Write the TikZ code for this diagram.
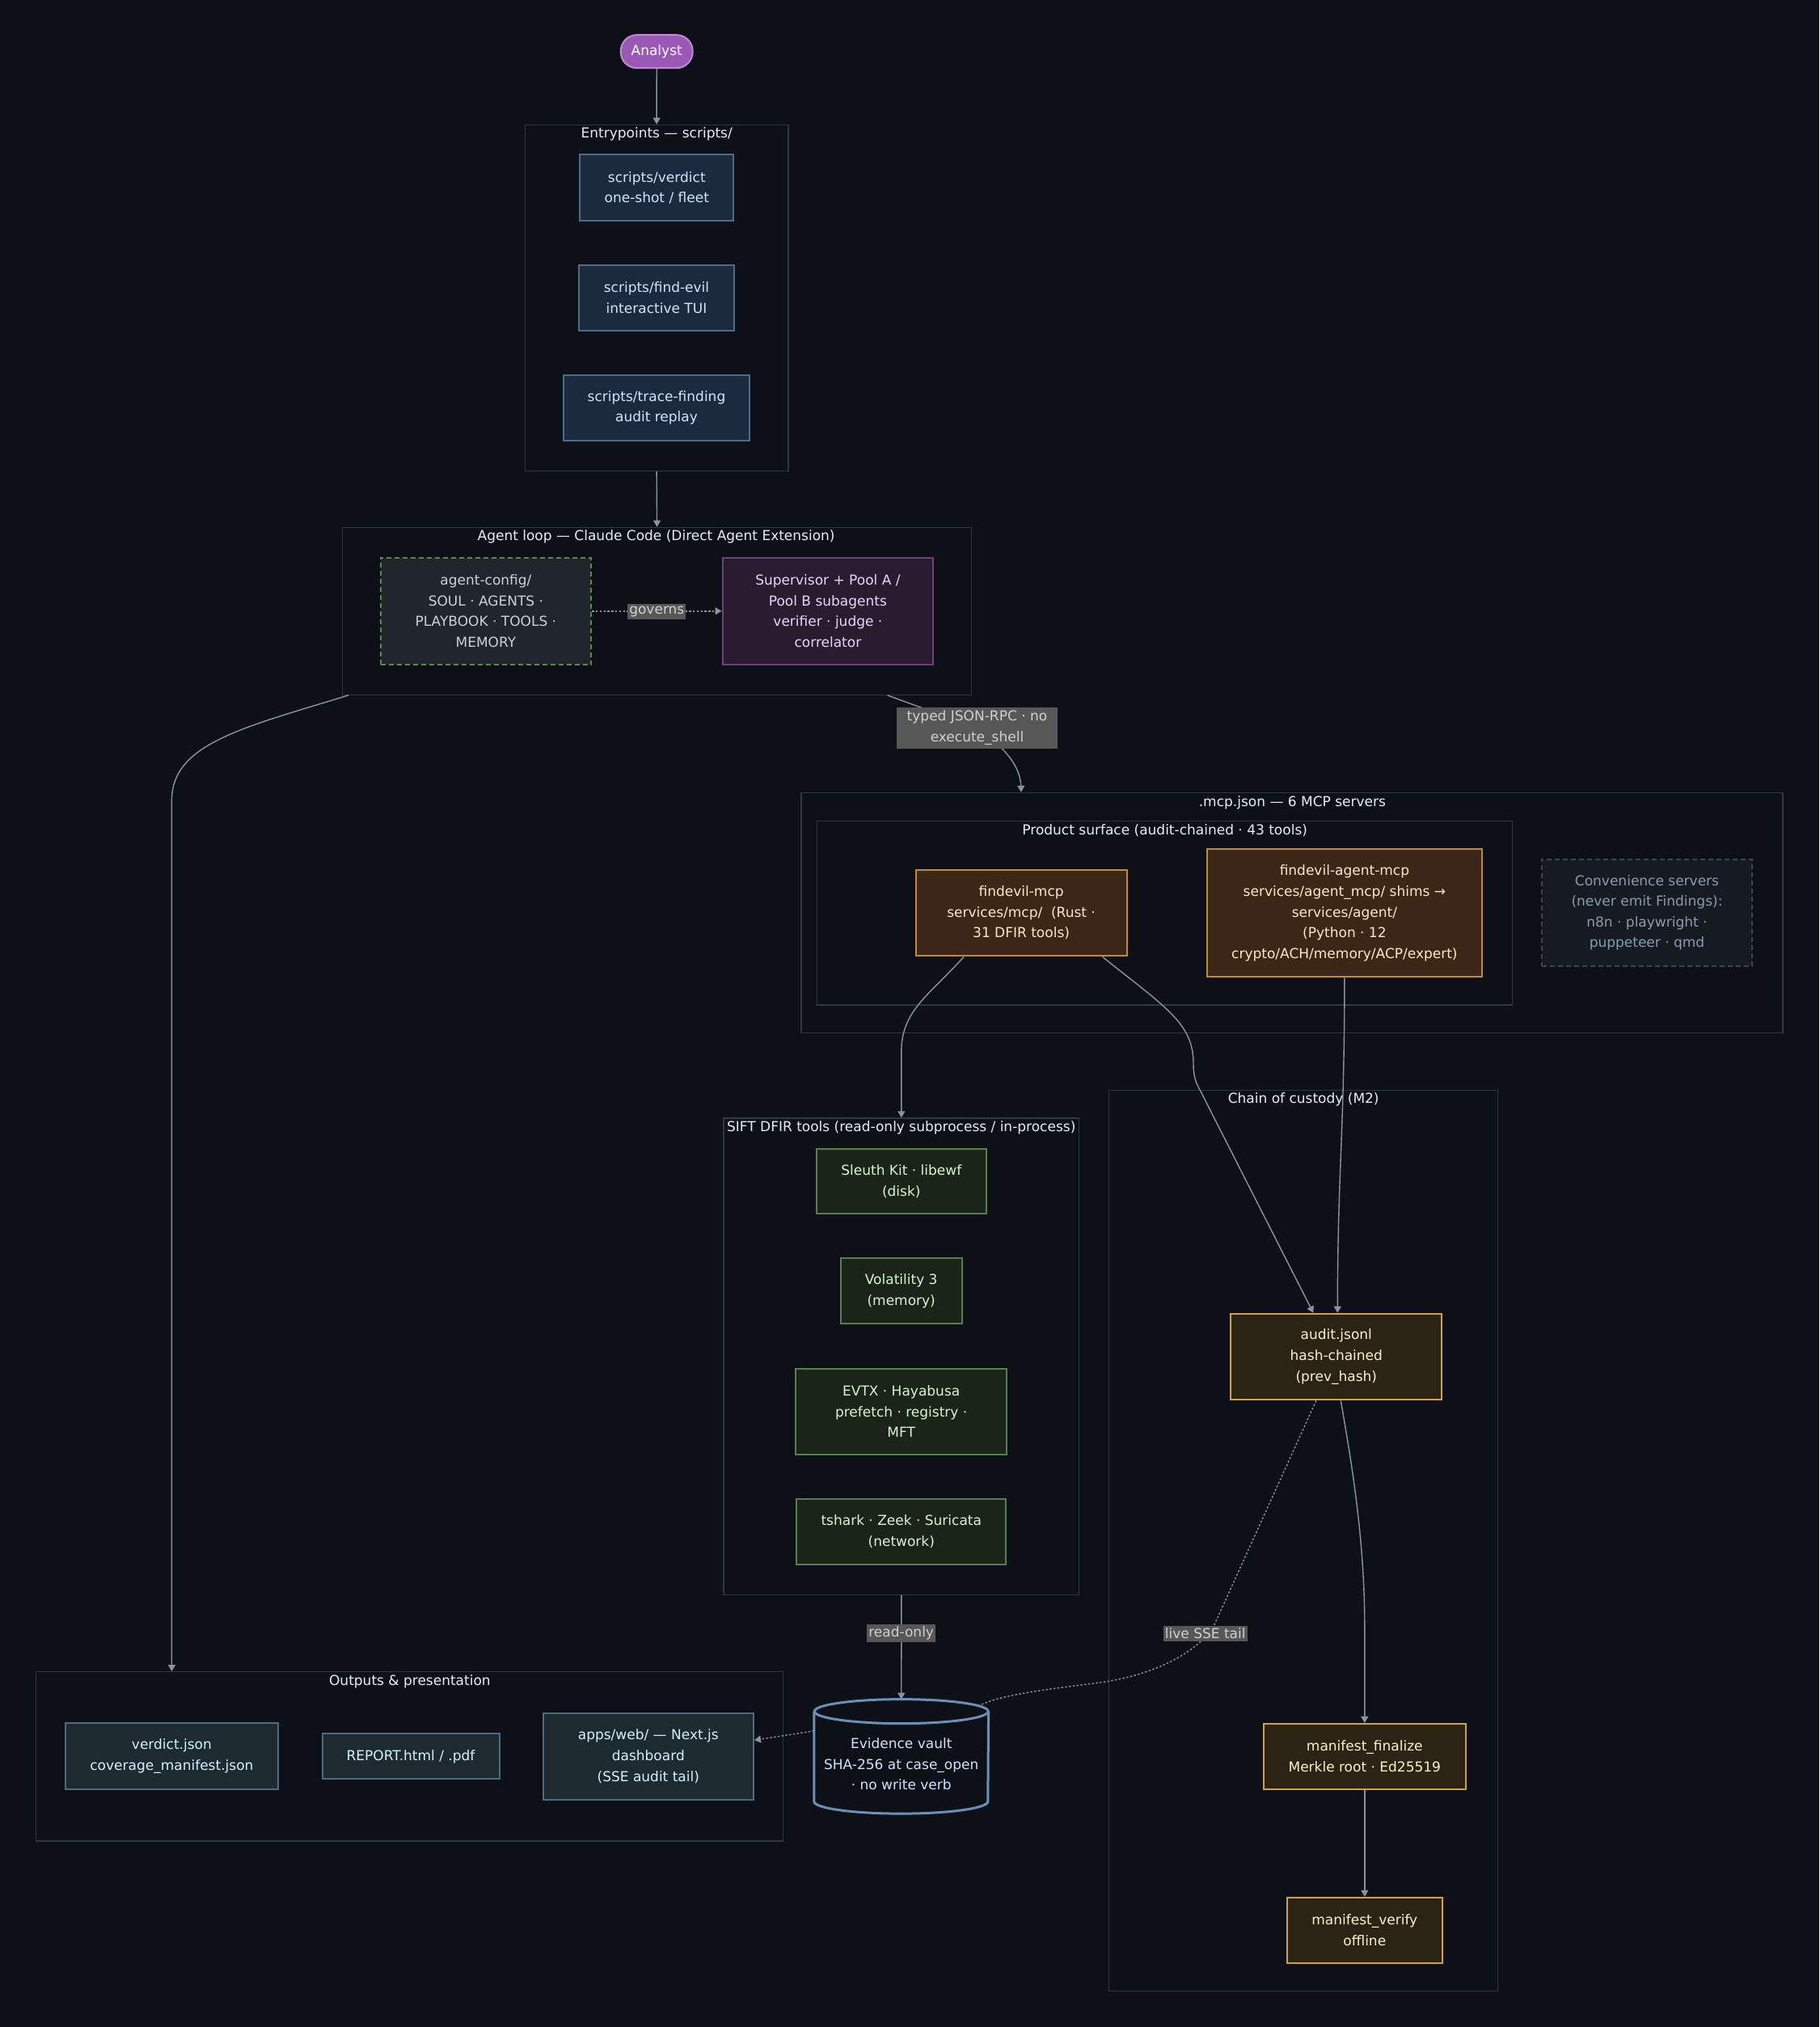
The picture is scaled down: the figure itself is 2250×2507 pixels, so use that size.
\documentclass[tikz,border=0pt]{standalone}
\usepackage{fontspec}
\setmainfont{DejaVu Sans}
\usetikzlibrary{arrows.meta,calc}
\definecolor{bg}{HTML}{0D1117}
\definecolor{clline}{HTML}{30363D}
\definecolor{cltext}{HTML}{E6EDF3}
\definecolor{edgecol}{HTML}{8B949E}
\definecolor{anfill}{HTML}{9B59B6}
\definecolor{anline}{HTML}{BE8AD2}
\definecolor{entfill}{HTML}{1B2A3C}
\definecolor{entline}{HTML}{4D6B8A}
\definecolor{enttext}{HTML}{CFE6FF}
\definecolor{cfgfill}{HTML}{21262D}
\definecolor{cfgline}{HTML}{5B8A4A}
\definecolor{cfgtext}{HTML}{C9D1D9}
\definecolor{supfill}{HTML}{2A1B2E}
\definecolor{supline}{HTML}{70407A}
\definecolor{suptext}{HTML}{E8D5FF}
\definecolor{lblfill}{HTML}{575757}
\definecolor{lbltext}{HTML}{D0D0D0}
\definecolor{mcpfill}{HTML}{3B2617}
\definecolor{mcpline}{HTML}{C08A3E}
\definecolor{mcptext}{HTML}{FFE6C7}
\definecolor{convfill}{HTML}{161B22}
\definecolor{convline}{HTML}{3D4550}
\definecolor{convtext}{HTML}{8B9BB0}
\definecolor{siftfill}{HTML}{1A2419}
\definecolor{siftline}{HTML}{5A7F4F}
\definecolor{sifttext}{HTML}{D8F5D0}
\definecolor{audfill}{HTML}{2B2414}
\definecolor{audline}{HTML}{D4A045}
\definecolor{audtext}{HTML}{FFF0CC}
\definecolor{outfill}{HTML}{1D2A2F}
\definecolor{outline}{HTML}{4E6A80}
\definecolor{outtext}{HTML}{D4F1FF}
\definecolor{vaultline}{HTML}{6A90B8}
\definecolor{vaulttext}{HTML}{CFE3FF}
\tikzset{
  cluster/.style={draw=clline, line width=0.6pt, inner sep=0pt},
  ctitle/.style={text=cltext, inner sep=0pt},
  box/.style={line width=1pt, align=center, inner sep=0pt},
  entbox/.style={box, fill=entfill, draw=entline, text=enttext},
  cfgbox/.style={box, fill=cfgfill, draw=cfgline, text=cfgtext, dash pattern=on 3pt off 2pt},
  supbox/.style={box, fill=supfill, draw=supline, text=suptext},
  mcpbox/.style={box, fill=mcpfill, draw=mcpline, text=mcptext},
  convbox/.style={box, fill=convfill, draw=convline, text=convtext, dash pattern=on 3pt off 2pt},
  siftbox/.style={box, fill=siftfill, draw=siftline, text=sifttext},
  audbox/.style={box, fill=audfill, draw=audline, text=audtext},
  outbox/.style={box, fill=outfill, draw=outline, text=outtext},
  elabel/.style={fill=lblfill, text=lbltext, align=center, inner xsep=1pt, inner ysep=1.5pt},
  edge/.style={draw=edgecol, line width=0.7pt},
  arr/.style={edge, -{Triangle[length=4pt,width=4.5pt]}},
  dots/.style={dash pattern=on 1.2pt off 1.2pt},
}
\begin{document}
\begin{tikzpicture}[x=0.5pt, y=-0.5pt, font=\fontsize{8.5pt}{12.8pt}\selectfont]
\fill[bg] (0,0) rectangle (2250,2507);
\useasboundingbox (0,0) rectangle (2250,2507);

% clusters
\node[cluster, minimum width=162.85pt, minimum height=214.1pt] (ent) at (812.15,368.4) {};
\node[ctitle] (entT) at (812.2,166) {Entrypoints — scripts/};
\node[cluster, minimum width=389pt, minimum height=103.5pt] (agentloop) at (812.6,755.8) {};
\node[ctitle] (agentT) at (811.6,664) {Agent loop — Claude Code (Direct Agent Extension)};
\node[cluster, minimum width=607pt, minimum height=148.5pt] (mcp) at (1598,1128.8) {};
\node[ctitle] (mcpT) at (1598.4,992.3) {.mcp.json — 6 MCP servers};
\node[cluster, minimum width=429.85pt, minimum height=113.85pt] (prod) at (1440.65,1129.15) {};
\node[ctitle] (prodT) at (1440.7,1026.7) {Product surface (audit-chained · 43 tools)};
\node[cluster, minimum width=219.85pt, minimum height=294.6pt] (sift) at (1114.85,1677.5) {};
\node[ctitle] (siftT) at (1114.7,1394.8) {SIFT DFIR tools (read-only subprocess / in-process)};
\node[cluster, minimum width=240.5pt, minimum height=557.1pt] (coc) at (1612.2,1905.7) {};
\node[ctitle] (cocT) at (1612.2,1359.5) {Chain of custody (M2)};
\node[cluster, minimum width=462.35pt, minimum height=104.65pt] (outputs) at (506.45,2172.35) {};
\node[ctitle] (outT) at (506.9,2080) {Outputs \& presentation};

% nodes
\node[box, fill=anfill, draw=anline, text=white, rounded corners=10pt, minimum width=44.5pt, minimum height=20.5pt] (analyst) at (812.2,63.7) {Analyst};

\node[entbox, minimum width=95pt, minimum height=40.9pt] (sverdict) at (812.3,232.3) {scripts/verdict\\one-shot / fleet};
\node[entbox, minimum width=95.7pt, minimum height=40.7pt] (sfind) at (812,368.2) {scripts/find-evil\\interactive TUI};
\node[entbox, minimum width=115.3pt, minimum height=40.7pt] (strace) at (812,504.3) {scripts/trace-finding\\audit replay};

\node[cfgbox, minimum width=130.35pt, minimum height=66.15pt] (agentcfg) at (600.9,755.8) {agent-config/\\SOUL · AGENTS ·\\PLAYBOOK · TOOLS ·\\MEMORY};
\node[supbox, minimum width=130.35pt, minimum height=66.15pt] (superv) at (1023.9,755.8) {Supervisor + Pool A /\\Pool B subagents\\verifier · judge ·\\correlator};

\node[mcpbox, minimum width=130.5pt, minimum height=53.35pt] (fmcp) at (1263.1,1129) {findevil-mcp\\services/mcp/\ \ (Rust ·\\31 DFIR tools)};
\node[mcpbox, minimum width=169.65pt, minimum height=79pt] (famcp) at (1662.9,1129.3) {findevil-agent-mcp\\services/agent\_mcp/ shims →\\services/agent/\\(Python · 12\\crypto/ACH/memory/ACP/expert)};
\node[convbox, minimum width=130pt, minimum height=66.15pt] (conv) at (2037,1128.8) {Convenience servers\\(never emit Findings):\\n8n · playwright ·\\puppeteer · qmd};

\node[siftbox, minimum width=104.85pt, minimum height=40.35pt] (sleuth) at (1114.8,1460.9) {Sleuth Kit · libewf\\(disk)};
\node[siftbox, minimum width=75pt, minimum height=40.5pt] (vol) at (1114.7,1596.7) {Volatility 3\\(memory)};
\node[siftbox, minimum width=130.35pt, minimum height=53.2pt] (evtx) at (1114.7,1745.7) {EVTX · Hayabusa\\prefetch · registry ·\\MFT};
\node[siftbox, minimum width=129.5pt, minimum height=40.9pt] (tshark) at (1114.8,1894.4) {tshark · Zeek · Suricata\\(network)};

\node[audbox, minimum width=130.5pt, minimum height=53.3pt] (audit) at (1652.8,1678) {audit.jsonl\\hash-chained\\(prev\_hash)};
\node[audbox, minimum width=124.85pt, minimum height=40.35pt] (mfin) at (1687.8,2172.3) {manifest\_finalize\\Merkle root · Ed25519};
\node[audbox, minimum width=96.15pt, minimum height=40.35pt] (mver) at (1687.8,2387.2) {manifest\_verify\\offline};

\node[outbox, minimum width=131.35pt, minimum height=40.85pt] (vjson) at (212.4,2172.2) {verdict.json\\coverage\_manifest.json};
\node[outbox, minimum width=109.5pt, minimum height=28pt] (report) at (508,2172.3) {REPORT.html / .pdf};
\node[outbox, minimum width=130.2pt, minimum height=53.5pt] (web) at (801.8,2172.2) {apps/web/ — Next.js\\dashboard\\(SSE audit tail)};

% evidence vault cylinder
\node[align=center, inner sep=0pt, minimum width=107.45pt, minimum height=70.35pt, text=vaulttext] (vault) at (1114.75,2172.35) {};
\filldraw[fill=bg, draw=vaultline, line width=1.5pt]
  ($(vault.north west)+(0,15)$) -- ($(vault.south west)+(0,-15)$)
  arc[start angle=180, end angle=0, x radius=107.45, y radius=15]
  -- ($(vault.north east)+(0,15)$);
\draw[draw=vaultline, line width=1.5pt, fill=bg] ($(vault.north)+(0,15)$) ellipse [x radius=107.45, y radius=15];
\node[align=center, inner sep=0pt, text=vaulttext] (vaultT) at (1114.75,2182) {Evidence vault\\SHA-256 at case\_open\\· no write verb};

% edges
\draw[arr] (analyst.south) -- (ent.north);
\draw[arr] (ent.south) -- (agentloop.north);
\draw[arr, dots] (agentcfg.east) -- (superv.west);
\node[elabel] (governs) at (812.3,756.3) {governs};

\draw[arr] ($(agentloop.south)+(285,0)$) -- (1180,890) .. controls (1235,910) and (1262,945) .. ($(mcp.north)+(-335,0)$);
\node[elabel, minimum width=99.5pt, minimum height=25.5pt, inner ysep=0pt] (jsonlbl) at (1208.5,900) {typed JSON-RPC · no\\execute\_shell};

\draw[arr] ($(agentloop.south west)+(8,0)$) .. controls (300,900) and (212.4,920) .. (212.4,990) -- (outputs.north -| vjson);

\draw[arr] ($(fmcp.south)+(-71,0)$) .. controls (1150,1230) and (1114.85,1250) .. (1114.85,1300) -- (sift.north);
\draw[arr] ($(fmcp.south)+(100.5,0)$) .. controls (1440,1245) and (1476,1265) .. (1476,1315) .. controls (1476,1325) and (1477,1332) .. (1480,1340) -- ($(audit.north)+(-28.5,0)$);
\draw[arr] (famcp.south) .. controls (1662.9,1400) and (1654.3,1450) .. ($(audit.north)+(1.5,0)$);
\draw[arr] ($(audit.south)+(5.5,0)$) .. controls (1670,1800) and (1687.8,1900) .. (1687.8,2010) -- (mfin.north);
\draw[arr] (mfin.south) -- (mver.north);

\draw[edge, dots] ($(audit.south)+(-25,0)$) -- (1503,2007) .. controls (1490,2035) and (1440,2070) .. (1360,2081) .. controls (1300,2089) and (1240,2095) .. ($(vault.north east)+(-11.8,8)$);
\node[elabel] (livelbl) at (1490.7,2020.3) {live SSE tail};

\draw[arr] (sift.south) -- (vault.north);
\node[elabel] (rolbl) at (1114.7,2020) {read-only};

\draw[arr, dots] ($(vault.west)+(0,-31.6)$) -- ($(web.east)+(0,-20)$);
\end{tikzpicture}
\end{document}
